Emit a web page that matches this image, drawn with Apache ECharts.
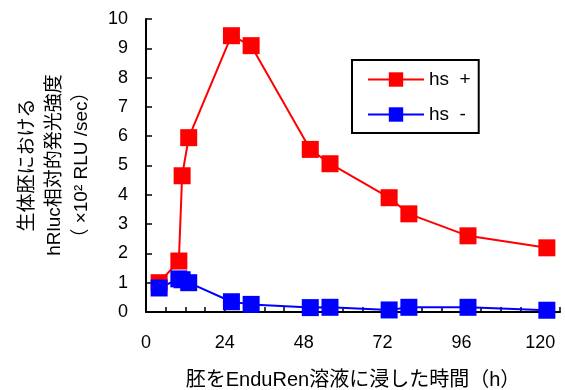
<!DOCTYPE html>
<html><head><meta charset="utf-8">
<script src="https://cdn.jsdelivr.net/npm/echarts@6/dist/echarts.min.js"></script>
<style>html,body{margin:0;padding:0;background:#fff}#c{width:565px;height:390px}</style>
</head><body><div id="c"></div>
<script>
const hours = [4, 10, 11, 13, 26, 32, 50, 56, 74, 80, 98, 122];
const hsPlus = [1.0, 1.74, 4.65, 5.95, 9.43, 9.09, 5.55, 5.06, 3.9, 3.35, 2.6, 2.19];
const hsMinus = [0.82, 1.13, 1.1, 1.0, 0.35, 0.26, 0.15, 0.16, 0.07, 0.16, 0.16, 0.06];
const seriesNames = ['hs  +', 'hs  -'];
const xLabelStep = 24;
const yTicks = [0,1,2,3,4,5,6,7,8,9,10];
const FONT = '"Liberation Sans", "Noto Sans CJK JP", sans-serif';

const chart = echarts.init(document.getElementById('c'));
const pair = (xs, ys) => xs.map((x, i) => [x, ys[i]]);
chart.setOption({
  animation: false,
  textStyle: {fontFamily: FONT},
  grid: {left: 146, top: 19, width: 414, height: 293, containLabel: false, outerBoundsMode: 'none'},
  xAxis: {
    type: 'value', min: 0, max: 126, interval: 6,
    axisLine: {lineStyle: {color: '#000', width: 2}},
    axisTick: {inside: true, length: 5, lineStyle: {color: '#000', width: 1.5}},
    axisLabel: {margin: 22, fontSize: 18, color: '#000', fontFamily: FONT,
      formatter: v => (v % xLabelStep === 0 ? String(v) : '')},
    splitLine: {show: false},
    name: '胚をEnduRen溶液に浸した時間（h）', nameLocation: 'middle', nameGap: 58,
    nameTextStyle: {fontSize: 20, color: '#000', fontFamily: FONT}
  },
  yAxis: {
    type: 'value', min: yTicks[0], max: yTicks[yTicks.length-1], interval: 1,
    axisLine: {show: true, lineStyle: {color: '#000', width: 2}},
    axisTick: {show: true, inside: true, length: 6, lineStyle: {color: '#000', width: 1.5}},
    axisLabel: {margin: 18, fontSize: 18, color: '#000', fontFamily: FONT},
    splitLine: {show: false}
  },
  graphic: [{
    type: 'text', x: 55, y: 165, rotation: Math.PI / 2,
    style: {
      text: '生体胚における\nhRluc相対的発光強度\n（ ×10² RLU /sec）',
      font: '19px ' + FONT, fill: '#000', align: 'center', verticalAlign: 'middle',
      lineHeight: 27
    }
  }],
  legend: {
    orient: 'vertical', left: 352, top: 60,
    padding: [10, 8, 9, 15], itemGap: 16, itemWidth: 56, itemHeight: 18,
    borderColor: '#000', borderWidth: 2,
    textStyle: {fontSize: 19, color: '#000', fontFamily: FONT},
    data: seriesNames
  },
  series: [
    {name: seriesNames[0], type: 'line', data: pair(hours, hsPlus), symbol: 'rect', symbolSize: 17,
     itemStyle: {color: '#ff0000'}, lineStyle: {color: '#ff0000', width: 2}},
    {name: seriesNames[1], type: 'line', data: pair(hours, hsMinus), symbol: 'rect', symbolSize: 17,
     itemStyle: {color: '#0000ff'}, lineStyle: {color: '#0000ff', width: 2}}
  ]
});
</script></body></html>
